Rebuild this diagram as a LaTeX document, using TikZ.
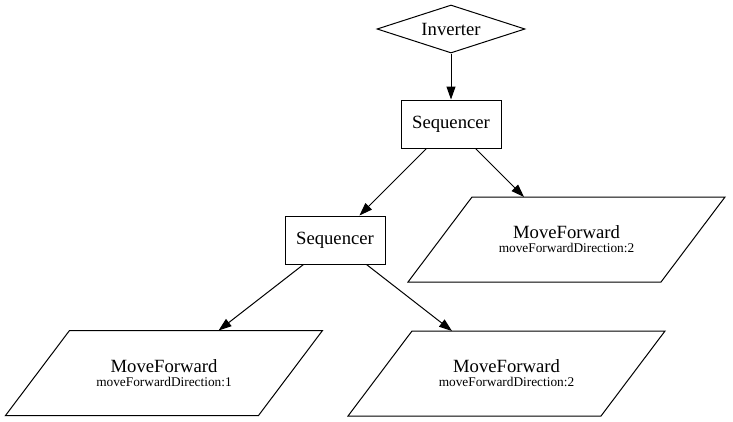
\documentclass[tikz,border=0pt]{standalone}
\usepackage{fontspec}
\setmainfont{Liberation Serif}
\usetikzlibrary{shapes.geometric,arrows.meta}
\begin{document}
\begin{tikzpicture}[x=1pt,y=-1pt,
  every node/.style={draw,line width=1pt,inner sep=0pt,font=\fontsize{18.67}{20}\selectfont},
  seqbox/.style={rectangle,minimum width=100pt,minimum height=48pt},
  decision/.style={diamond,minimum width=148pt,minimum height=48pt,aspect=3.1},
  action/.style={draw=none,rectangle,minimum width=317pt,minimum height=85pt,align=center,
    outer sep=0pt,font=\fontsize{13.33}{14}\selectfont},
  actionshape/.style={draw,line width=1pt},
  edge/.style={draw,line width=1pt,-{Triangle[length=13pt,width=9pt]}}]
\useasboundingbox (0,0) rectangle (733,421);
\node[decision] (inv) at (451,29) {Inverter};
\node[seqbox] (seq1) at (451,124) {Sequencer};
\node[seqbox] (seq2) at (335,240) {Sequencer};
\node[action] (mf3) at (566.5,239.5) {{\fontsize{18.67}{14}\selectfont MoveForward}\\moveForwardDirection:2};
\node[action] (mf1) at (164,373) {{\fontsize{18.67}{14}\selectfont MoveForward}\\moveForwardDirection:1};
\node[action] (mf2) at (506.5,373.5) {{\fontsize{18.67}{14}\selectfont MoveForward}\\moveForwardDirection:2};
\foreach \n in {mf1,mf2,mf3}{
  \draw[actionshape] ([xshift=64pt]\n.north west) -- (\n.north east)
    -- ([xshift=-64pt]\n.south east) -- (\n.south west) -- cycle;
}
\path[edge] (inv) -- (seq1);
\path[edge] (seq1) -- (seq2);
\path[edge] (seq1) -- (mf3);
\path[edge] (seq2) -- (mf1);
\path[edge] (seq2) -- (mf2);
\end{tikzpicture}
\end{document}
